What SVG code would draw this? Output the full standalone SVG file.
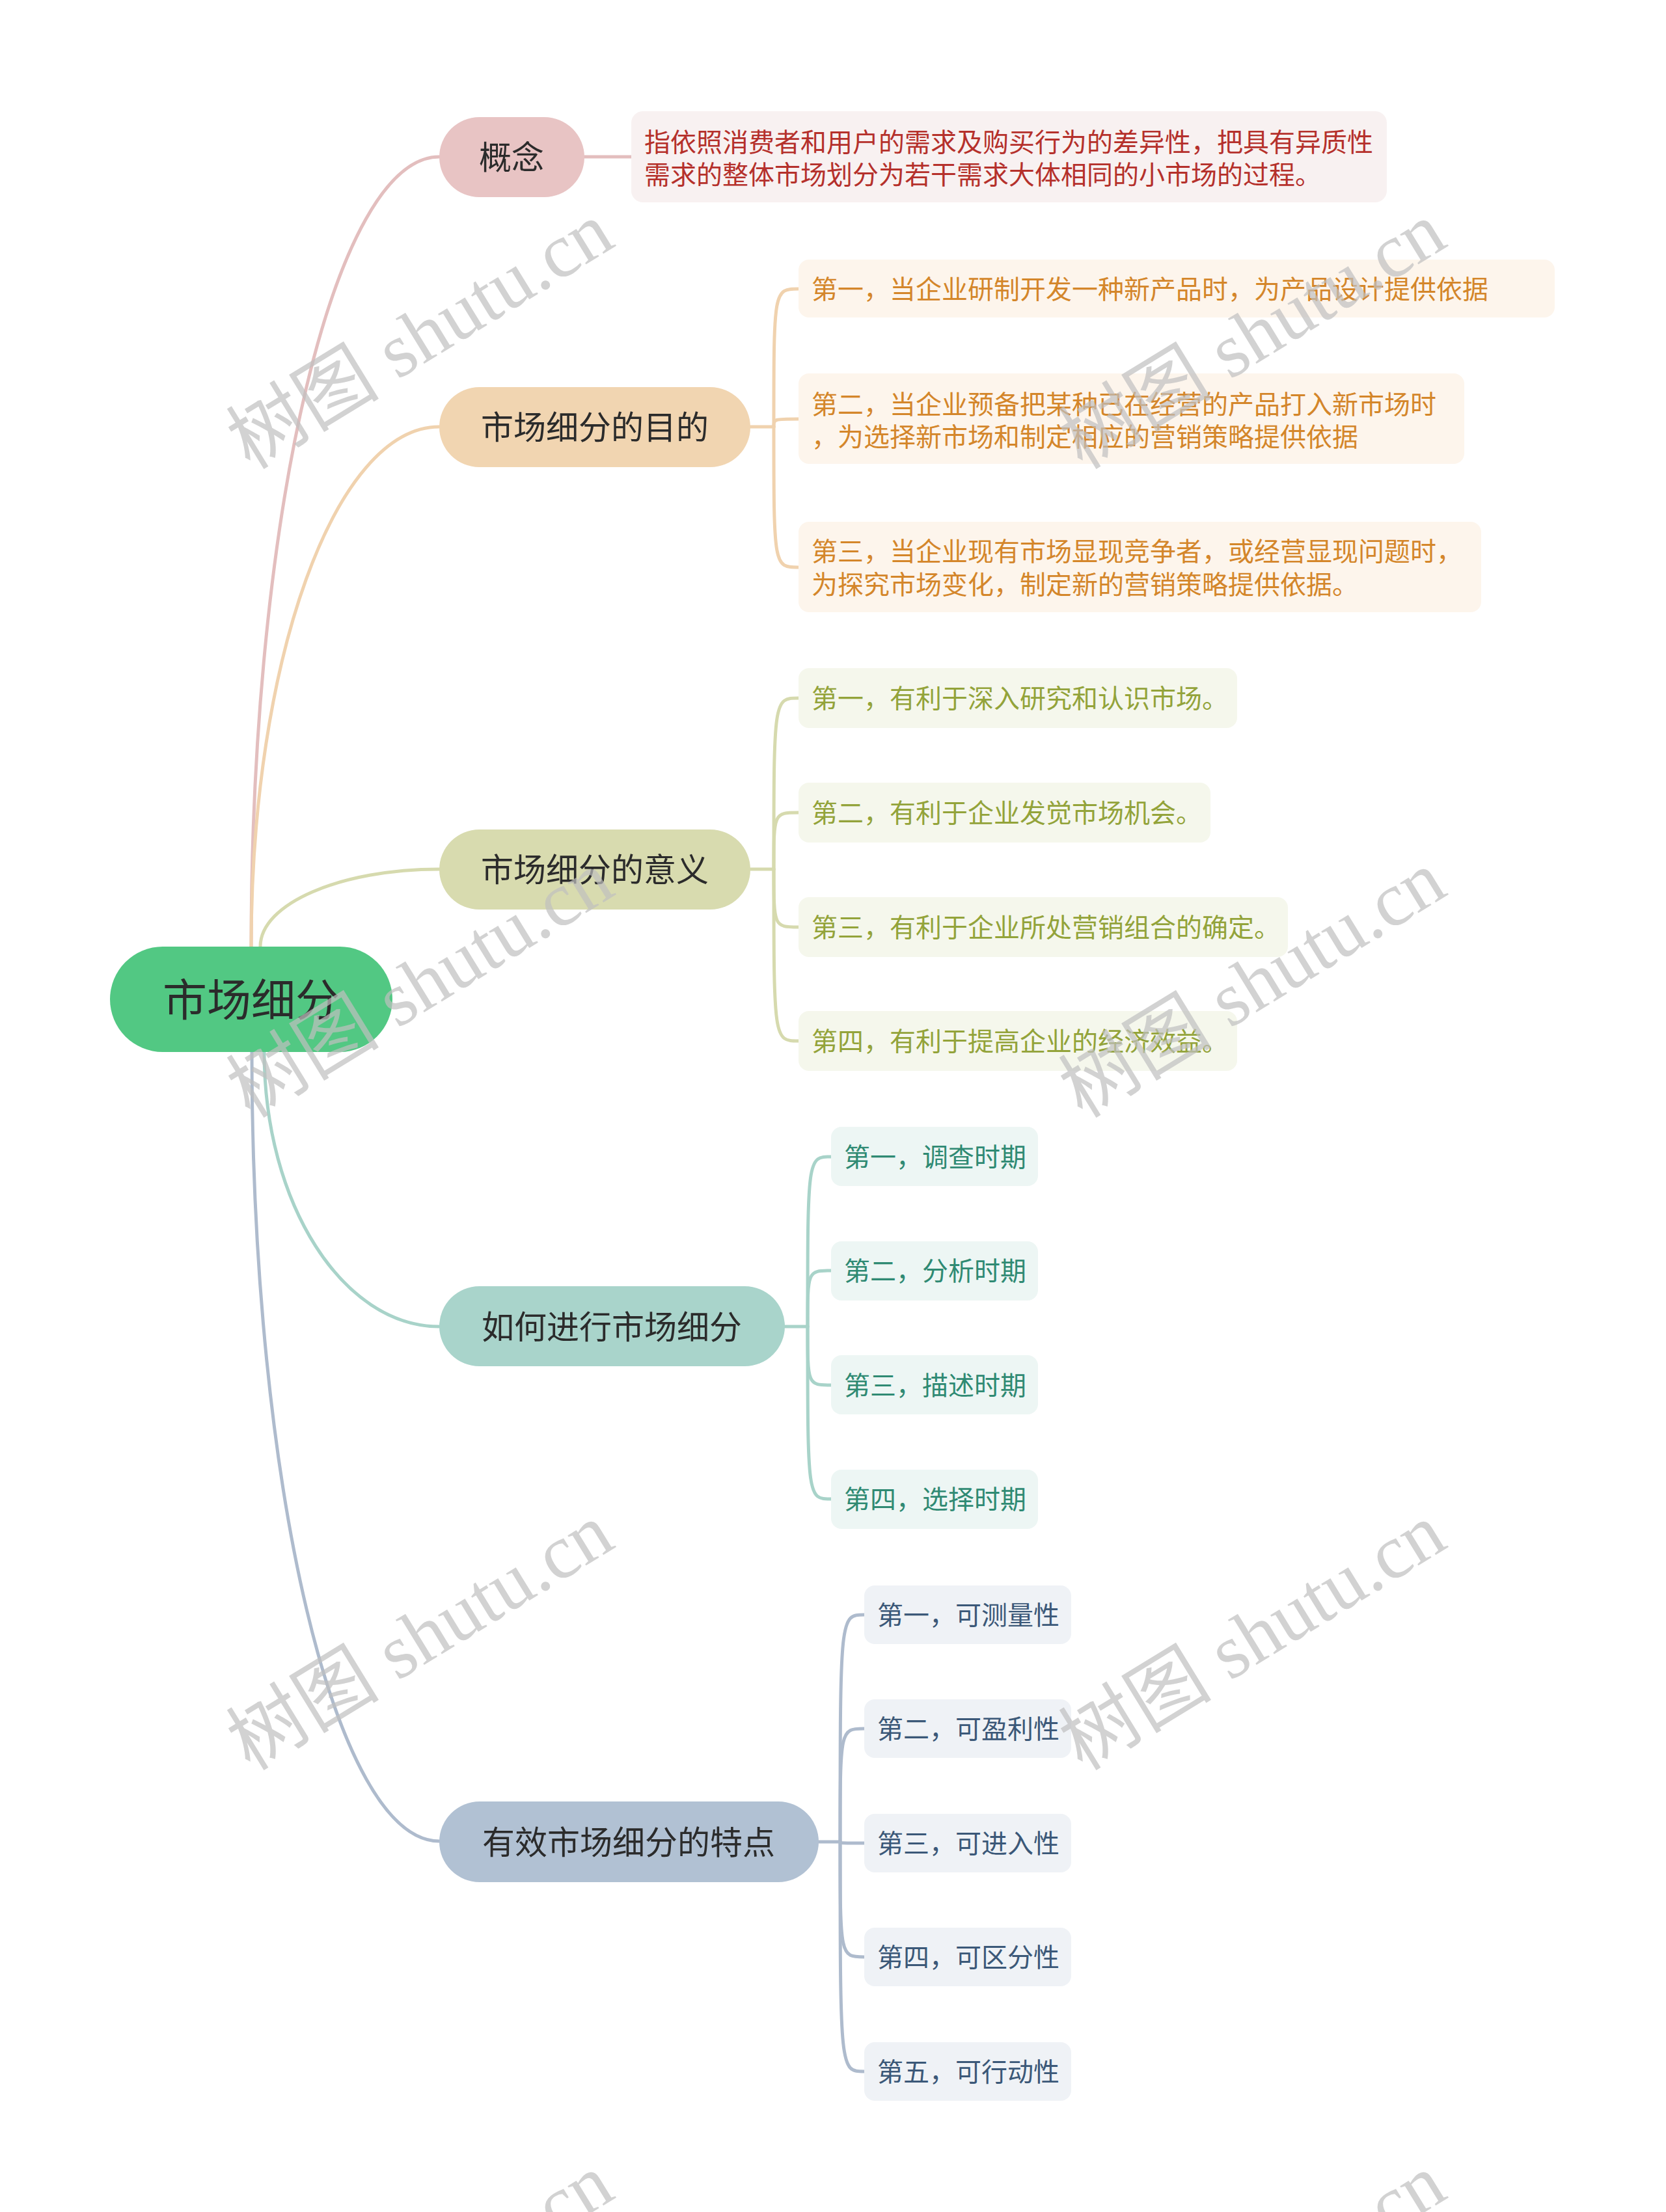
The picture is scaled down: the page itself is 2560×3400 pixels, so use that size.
<svg xmlns="http://www.w3.org/2000/svg" width="2560" height="3400" viewBox="0 0 2560 3400">
<style>
.main{font-family:"Noto Sans CJK SC","Noto Sans",sans-serif;font-size:50px;fill:#2b2b2b;text-anchor:middle}
.root{font-family:"Noto Sans CJK SC","Noto Sans",sans-serif;font-size:68px;fill:#2b2b2b;text-anchor:middle}
.leaf{font-family:"Noto Sans CJK SC","Noto Sans",sans-serif;font-size:40px}
.c1{fill:#b5302b}.c2{fill:#d4862a}.c3{fill:#93a33a}.c4{fill:#2f8a73}.c5{fill:#3b5878}
.ln{fill:none;stroke-width:5;stroke-linecap:round}
.wm{font-family:"Liberation Serif","Noto Sans CJK SC",serif;font-size:118px;fill:#c0c0c0;opacity:0.7;text-anchor:middle}
</style>
<rect width="2560" height="3400" fill="#ffffff"/>
<g id="connectors">
  <path class="ln" stroke="#E3BEBE" d="M386,1455 C386,785 515,241 675,241"/>
  <path class="ln" stroke="#F0D2AE" d="M386,1455 C386,1014 515,656 675,656"/>
  <path class="ln" stroke="#D6DAAE" d="M400,1455 C400,1389 523,1336 675,1336"/>
  <path class="ln" stroke="#A8D3C9" d="M406,1617 C406,1850 527,2039 675,2039"/>
  <path class="ln" stroke="#AEBBCD" d="M387,1617 C387,2287 516,2830 675,2830"/>
  <path class="ln" stroke="#E3BEBE" d="M898,241 L970,241"/>
  <g>
    <path class="ln" stroke="#F0D2AE" d="M1153,656 L1189,656"/>
    <path class="ln" stroke="#F0D2AE" d="M1189,656 C1189,444 1189,444 1227,444"/>
    <path class="ln" stroke="#F0D2AE" d="M1189,656 C1189,644 1189,644 1227,644"/>
    <path class="ln" stroke="#F0D2AE" d="M1189,656 C1189,872 1189,872 1227,872"/>
  </g>
  <g>
    <path class="ln" stroke="#D6DAAE" d="M1153,1336 L1189,1336"/>
    <path class="ln" stroke="#D6DAAE" d="M1189,1336 C1189,1073 1189,1073 1227,1073"/>
    <path class="ln" stroke="#D6DAAE" d="M1189,1336 C1189,1249 1189,1249 1227,1249"/>
    <path class="ln" stroke="#D6DAAE" d="M1189,1336 C1189,1425 1189,1425 1227,1425"/>
    <path class="ln" stroke="#D6DAAE" d="M1189,1336 C1189,1600 1189,1600 1227,1600"/>
  </g>
  <g>
    <path class="ln" stroke="#A8D3C9" d="M1206,2039 L1241,2039"/>
    <path class="ln" stroke="#A8D3C9" d="M1241,2039 C1241,1778 1241,1778 1277,1778"/>
    <path class="ln" stroke="#A8D3C9" d="M1241,2039 C1241,1953 1241,1953 1277,1953"/>
    <path class="ln" stroke="#A8D3C9" d="M1241,2039 C1241,2129 1241,2129 1277,2129"/>
    <path class="ln" stroke="#A8D3C9" d="M1241,2039 C1241,2304 1241,2304 1277,2304"/>
  </g>
  <g>
    <path class="ln" stroke="#AEBBCD" d="M1258,2831 L1291,2831"/>
    <path class="ln" stroke="#AEBBCD" d="M1291,2831 C1291,2482 1291,2482 1328,2482"/>
    <path class="ln" stroke="#AEBBCD" d="M1291,2831 C1291,2657 1291,2657 1328,2657"/>
    <path class="ln" stroke="#AEBBCD" d="M1291,2831 C1291,2833 1291,2833 1328,2833"/>
    <path class="ln" stroke="#AEBBCD" d="M1291,2831 C1291,3008 1291,3008 1328,3008"/>
    <path class="ln" stroke="#AEBBCD" d="M1291,2831 C1291,3184 1291,3184 1328,3184"/>
  </g>
</g>
<g id="root">
  <rect x="169" y="1455" width="434" height="162" rx="81" fill="#52C883"/>
  <text class="root" x="386" y="1562">市场细分</text>
</g>
<g id="concept">
  <rect x="675" y="180" width="223" height="123" rx="61.5" fill="#E8C4C4"/>
  <text class="main" x="786" y="260">概念</text>
</g>
<g id="concept-leaf">
  <rect x="970" y="171" width="1161" height="140" rx="18" fill="#F8F1F1"/>
  <text class="leaf c1" x="990" y="233">指依照消费者和用户的需求及购买行为的差异性，把具有异质性</text>
  <text class="leaf c1" x="990" y="283">需求的整体市场划分为若干需求大体相同的小市场的过程。</text>
</g>
<g id="purpose">
  <rect x="675" y="595" width="478" height="123" rx="61.5" fill="#F1D5B1"/>
  <text class="main" x="914" y="675">市场细分的目的</text>
</g>
<g id="purpose-1">
  <rect x="1227" y="399" width="1162" height="89" rx="16" fill="#FDF5EC"/>
  <text class="leaf c2" x="1247" y="459">第一，当企业研制开发一种新产品时，为产品设计提供依据</text>
</g>
<g id="purpose-2">
  <rect x="1227" y="574" width="1023" height="139" rx="16" fill="#FDF5EC"/>
  <text class="leaf c2" x="1247" y="636">第二，当企业预备把某种已在经营的产品打入新市场时</text>
  <text class="leaf c2" x="1247" y="686">，为选择新市场和制定相应的营销策略提供依据</text>
</g>
<g id="purpose-3">
  <rect x="1227" y="802" width="1049" height="139" rx="16" fill="#FDF5EC"/>
  <text class="leaf c2" x="1247" y="862">第三，当企业现有市场显现竞争者，或经营显现问题时，</text>
  <text class="leaf c2" x="1247" y="913">为探究市场变化，制定新的营销策略提供依据。</text>
</g>
<g id="meaning">
  <rect x="675" y="1275" width="478" height="123" rx="61.5" fill="#D8DBAF"/>
  <text class="main" x="914" y="1355">市场细分的意义</text>
</g>
<g id="meaning-1">
  <rect x="1227" y="1027" width="674" height="92" rx="16" fill="#F5F7EC"/>
  <text class="leaf c3" x="1247" y="1088">第一，有利于深入研究和认识市场。</text>
</g>
<g id="meaning-2">
  <rect x="1227" y="1203" width="633" height="92" rx="16" fill="#F5F7EC"/>
  <text class="leaf c3" x="1247" y="1264">第二，有利于企业发觉市场机会。</text>
</g>
<g id="meaning-3">
  <rect x="1227" y="1379" width="752" height="92" rx="16" fill="#F5F7EC"/>
  <text class="leaf c3" x="1247" y="1440">第三，有利于企业所处营销组合的确定。</text>
</g>
<g id="meaning-4">
  <rect x="1227" y="1554" width="674" height="92" rx="16" fill="#F5F7EC"/>
  <text class="leaf c3" x="1247" y="1615">第四，有利于提高企业的经济效益。</text>
</g>
<g id="how">
  <rect x="675" y="1977" width="531" height="123" rx="61.5" fill="#A9D4CB"/>
  <text class="main" x="940" y="2058">如何进行市场细分</text>
</g>
<g id="how-1">
  <rect x="1277" y="1732" width="318" height="91" rx="16" fill="#EDF6F4"/>
  <text class="leaf c4" x="1297" y="1793">第一，调查时期</text>
</g>
<g id="how-2">
  <rect x="1277" y="1908" width="318" height="91" rx="16" fill="#EDF6F4"/>
  <text class="leaf c4" x="1297" y="1968">第二，分析时期</text>
</g>
<g id="how-3">
  <rect x="1277" y="2083" width="318" height="91" rx="16" fill="#EDF6F4"/>
  <text class="leaf c4" x="1297" y="2144">第三，描述时期</text>
</g>
<g id="how-4">
  <rect x="1277" y="2259" width="318" height="91" rx="16" fill="#EDF6F4"/>
  <text class="leaf c4" x="1297" y="2319">第四，选择时期</text>
</g>
<g id="features">
  <rect x="675" y="2769" width="583" height="124" rx="62" fill="#B1C1D3"/>
  <text class="main" x="966" y="2850">有效市场细分的特点</text>
</g>
<g id="features-1">
  <rect x="1328" y="2437" width="318" height="90" rx="16" fill="#EFF2F6"/>
  <text class="leaf c5" x="1348" y="2497">第一，可测量性</text>
</g>
<g id="features-2">
  <rect x="1328" y="2612" width="318" height="90" rx="16" fill="#EFF2F6"/>
  <text class="leaf c5" x="1348" y="2672">第二，可盈利性</text>
</g>
<g id="features-3">
  <rect x="1328" y="2788" width="318" height="90" rx="16" fill="#EFF2F6"/>
  <text class="leaf c5" x="1348" y="2848">第三，可进入性</text>
</g>
<g id="features-4">
  <rect x="1328" y="2963" width="318" height="90" rx="16" fill="#EFF2F6"/>
  <text class="leaf c5" x="1348" y="3023">第四，可区分性</text>
</g>
<g id="features-5">
  <rect x="1328" y="3139" width="318" height="90" rx="16" fill="#EFF2F6"/>
  <text class="leaf c5" x="1348" y="3199">第五，可行动性</text>
</g>
<g id="watermarks">
  <text class="wm" x="645" y="556" transform="rotate(-31.5 645 515)">树图 shutu.cn</text>
  <text class="wm" x="1924" y="556" transform="rotate(-31.5 1924 515)">树图 shutu.cn</text>
  <text class="wm" x="645" y="1553" transform="rotate(-31.5 645 1512)">树图 shutu.cn</text>
  <text class="wm" x="1924" y="1553" transform="rotate(-31.5 1924 1512)">树图 shutu.cn</text>
  <text class="wm" x="645" y="2556" transform="rotate(-31.5 645 2515)">树图 shutu.cn</text>
  <text class="wm" x="1924" y="2556" transform="rotate(-31.5 1924 2515)">树图 shutu.cn</text>
  <text class="wm" x="645" y="3556" transform="rotate(-31.5 645 3515)">树图 shutu.cn</text>
  <text class="wm" x="1924" y="3556" transform="rotate(-31.5 1924 3515)">树图 shutu.cn</text>
</g>
</svg>
